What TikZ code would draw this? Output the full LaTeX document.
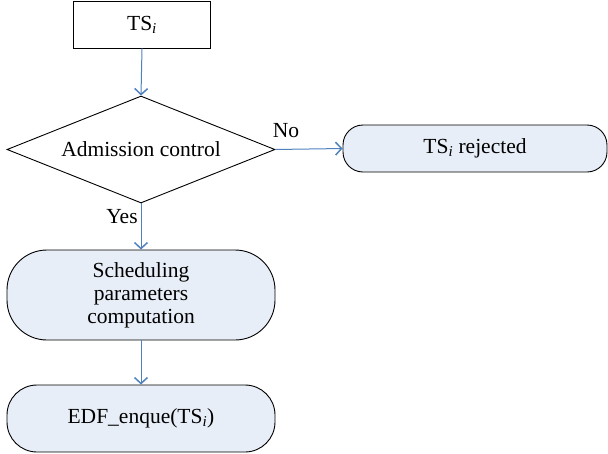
\documentclass[tikz,border=0pt]{standalone}
\usepackage{fontspec}
\setmainfont{Liberation Serif}
\usetikzlibrary{shapes.geometric,arrows.meta}
\definecolor{boxfill}{RGB}{232,238,247}
\definecolor{arrowblue}{RGB}{79,129,189}
\tikzset{
  base/.style={draw=black, line width=0.9pt, font=\fontsize{21.5}{23}\selectfont, align=center, inner sep=0pt},
  procbox/.style={base, rectangle},
  decision/.style={base, diamond, aspect=2.5},
  roundbox/.style={base, rectangle, fill=boxfill},
  flow/.style={draw=arrowblue, line width=1pt, -{Straight Barb[length=6pt,width=13pt,line width=1.5pt]}},
  lbl/.style={font=\fontsize{21.5}{23}\selectfont, inner sep=0pt}
}
\newcommand{\tsi}{TS\textsubscript{\itshape i}}
\begin{document}
\begin{tikzpicture}[x=1pt,y=1pt]
\useasboundingbox (0,0) rectangle (608,-453);
\node[procbox, minimum width=137pt, minimum height=47pt] (ts) at (142,-24.5) {\tsi};
\node[decision, minimum width=268pt, minimum height=107pt] (adm) at (141,-149.5) {Admission control};
\node[roundbox, rounded corners=20pt, minimum width=264pt, minimum height=47pt] (rej) at (475,-148.5) {\tsi{} rejected};
\node[roundbox, rounded corners=40pt, minimum width=268pt, minimum height=90pt] (sch) at (141,-295) {Scheduling\\parameters\\computation};
\node[roundbox, rounded corners=30pt, minimum width=268pt, minimum height=67pt] (edf) at (141,-418.5) {EDF\_enque(\tsi)};
\draw[flow] (ts.south) -- (adm.north);
\draw[flow] (adm.east) -- (rej.west);
\draw[flow] (adm.south) -- (sch.north);
\draw[flow] (sch.south) -- (edf.north);
\node[lbl] (no) at (286,-131) {No};
\node[lbl] (yes) at (122,-217) {Yes};
\end{tikzpicture}
\end{document}
